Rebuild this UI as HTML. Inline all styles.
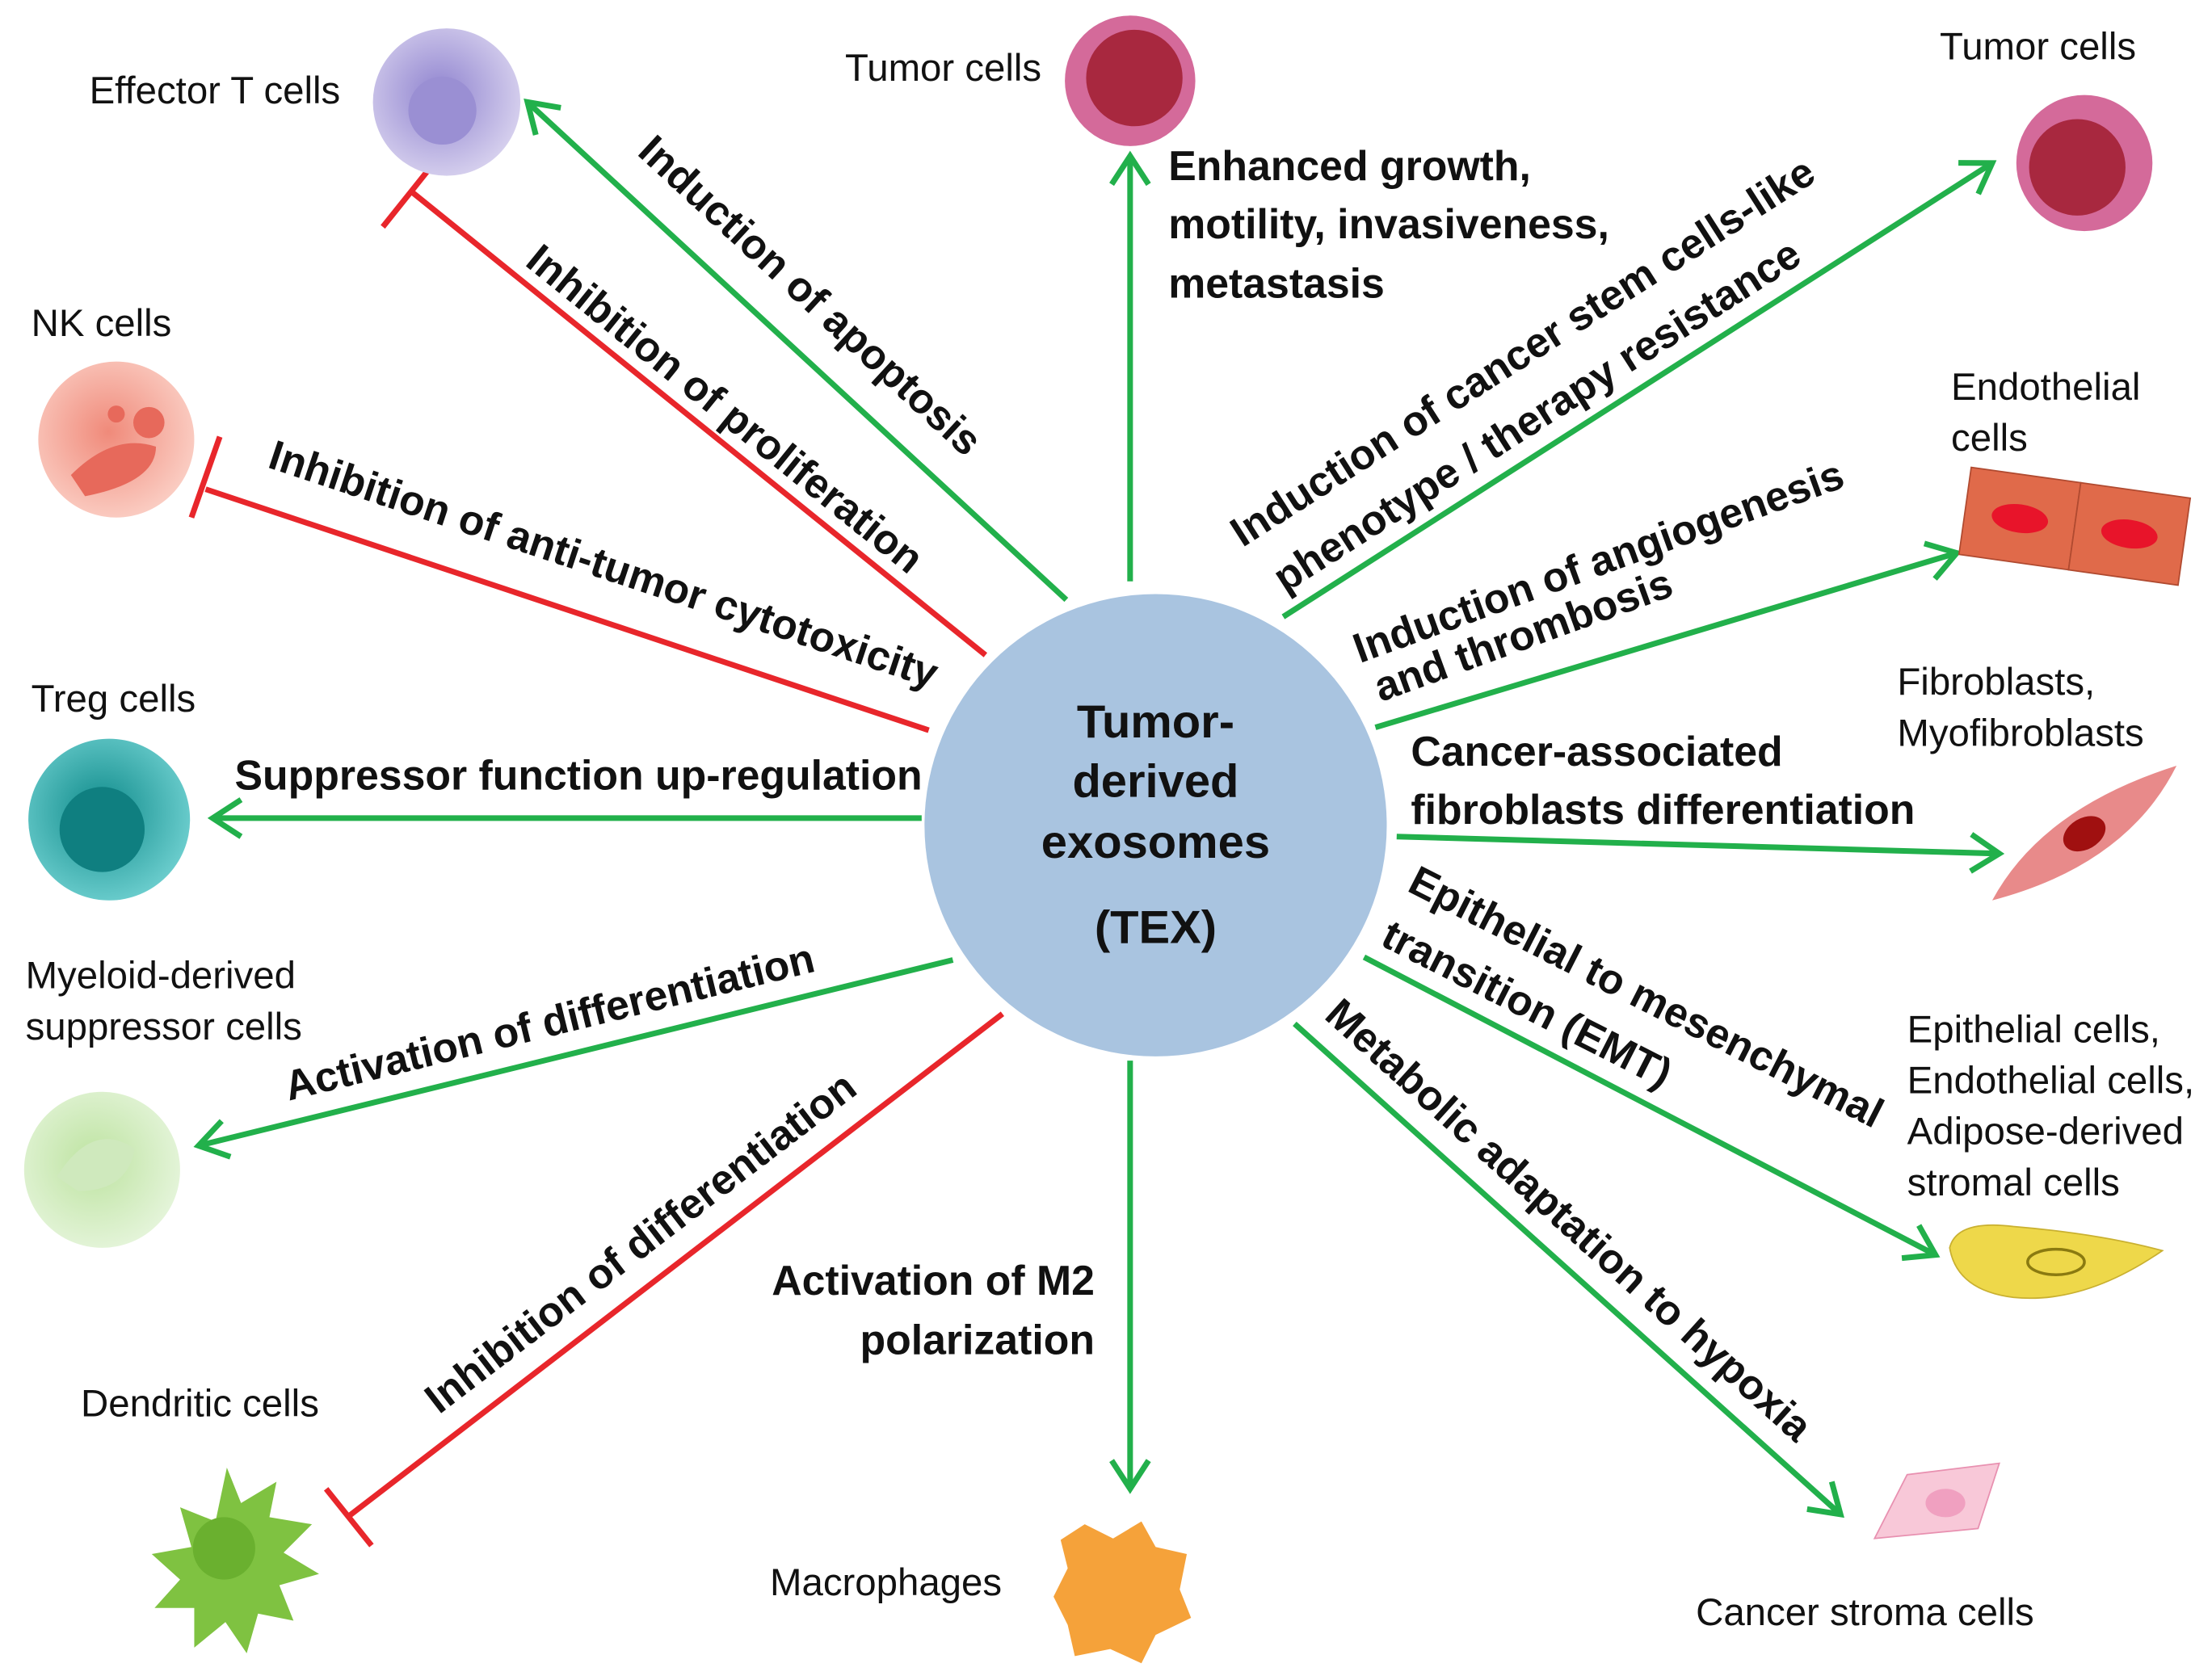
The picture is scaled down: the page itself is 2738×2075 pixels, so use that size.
<!DOCTYPE html>
<html><head><meta charset="utf-8"><style>html,body{margin:0;padding:0;background:#fff}svg{display:block}</style></head>
<body>
<svg xmlns="http://www.w3.org/2000/svg" width="2738" height="2075" viewBox="0 0 1560 1182" preserveAspectRatio="none" font-family="Liberation Sans, sans-serif">
<defs>
<marker id="ag" markerWidth="40" markerHeight="40" refX="0" refY="0" orient="auto" markerUnits="userSpaceOnUse" style="overflow:visible">
<path d="M-20,-13 L0,0 L-20,13" fill="none" stroke="#22b04b" stroke-width="4"/>
</marker>
<radialGradient id="gp" cx="45%" cy="45%" r="60%"><stop offset="0" stop-color="#8f83cf"/><stop offset="1" stop-color="#d9d3ef"/></radialGradient>
<radialGradient id="gt" cx="45%" cy="45%" r="60%"><stop offset="0" stop-color="#0e8a8a"/><stop offset="1" stop-color="#6fd0d0"/></radialGradient>
<radialGradient id="gn" cx="45%" cy="45%" r="60%"><stop offset="0" stop-color="#f08a7a"/><stop offset="1" stop-color="#fbd0c6"/></radialGradient>
<radialGradient id="gm" cx="45%" cy="45%" r="60%"><stop offset="0" stop-color="#bde3a0"/><stop offset="1" stop-color="#e6f5dc"/></radialGradient>
</defs>
<g stroke-width="4" fill="none">
<g stroke="#22b04b">
<line x1="752" y1="423" x2="372" y2="72" marker-end="url(#ag)"/>
<line x1="650" y1="577" x2="150" y2="577" marker-end="url(#ag)"/>
<line x1="672" y1="677" x2="140" y2="808" marker-end="url(#ag)"/>
<line x1="797" y1="748" x2="797" y2="1050" marker-end="url(#ag)"/>
<line x1="797" y1="410" x2="797" y2="110" marker-end="url(#ag)"/>
<line x1="905" y1="435" x2="1405" y2="115" marker-end="url(#ag)"/>
<line x1="970" y1="513" x2="1380" y2="390" marker-end="url(#ag)"/>
<line x1="985" y1="590" x2="1410" y2="602" marker-end="url(#ag)"/>
<line x1="962" y1="675" x2="1365" y2="885" marker-end="url(#ag)"/>
<line x1="913" y1="722" x2="1298" y2="1068" marker-end="url(#ag)"/>
</g>
<g stroke="#e8262b">
<line x1="695" y1="462" x2="290" y2="135"/><line x1="270" y1="160" x2="310" y2="110"/>
<line x1="655" y1="515" x2="145" y2="345"/><line x1="135" y1="365" x2="155" y2="308"/>
<line x1="707" y1="715" x2="245" y2="1070"/><line x1="230" y1="1050" x2="262" y2="1090"/>
</g>
</g>
<circle cx="815" cy="582" r="163" fill="#a9c4e0"/>
<g font-weight="bold" font-size="33" text-anchor="middle" fill="#111">
<text x="815" y="520">Tumor-</text><text x="815" y="562">derived</text><text x="815" y="605">exosomes</text><text x="815" y="665">(TEX)</text>
</g>
<!-- cells -->
<circle cx="315" cy="72" r="52" fill="url(#gp)"/><circle cx="312" cy="78" r="24" fill="#9a8fd3"/>
<circle cx="797" cy="57" r="46" fill="#d46a9a"/><circle cx="800" cy="55" r="34" fill="#a8283f"/>
<circle cx="1470" cy="115" r="48" fill="#d46a9a"/><circle cx="1465" cy="118" r="34" fill="#a8283f"/>
<circle cx="82" cy="310" r="55" fill="url(#gn)"/><path d="M50,335 q30,-30 60,-20 q0,25 -50,35z" fill="#e7695b"/><circle cx="105" cy="298" r="11" fill="#e7695b"/><circle cx="82" cy="292" r="6" fill="#e7695b"/>
<circle cx="77" cy="578" r="57" fill="url(#gt)"/><circle cx="72" cy="585" r="30" fill="#0f7f80"/>
<circle cx="72" cy="825" r="55" fill="url(#gm)"/><path d="M40,830 q25,-40 55,-20 q-5,30 -40,30z" fill="#cfe9bd"/>
<path d="M160,1035 l10,25 l25,-15 l-5,25 l30,5 l-20,20 l25,15 l-28,8 l10,25 l-25,-5 l-8,28 l-15,-22 l-22,18 l0,-28 l-28,0 l18,-20 l-20,-18 l28,-5 l-8,-28 l25,10z" fill="#7fc241"/><circle cx="158" cy="1092" r="22" fill="#6ab02f"/>
<path d="M765,1075 l20,10 l20,-12 l10,18 l22,5 l-5,25 l8,20 l-25,12 l-10,20 l-22,-10 l-25,5 l-5,-22 l-10,-20 l10,-20 l-5,-20z" fill="#f5a23a"/>
<g transform="rotate(8 1462 372)"><rect x="1385" y="340" width="78" height="62" fill="#e06a4a" stroke="#b04a30"/><rect x="1463" y="340" width="78" height="62" fill="#e06a4a" stroke="#b04a30"/><ellipse cx="1424" cy="371" rx="20" ry="10" fill="#e8142a"/><ellipse cx="1502" cy="371" rx="20" ry="10" fill="#e8142a"/></g>
<path d="M1405,635 Q1440,570 1535,540 Q1500,610 1405,635z" fill="#e88a8a"/><ellipse cx="1470" cy="588" rx="16" ry="11" fill="#a01010" transform="rotate(-30 1470 588)"/>
<path d="M1375,880 Q1380,860 1420,865 Q1480,870 1525,882 Q1470,920 1420,915 Q1380,910 1375,880z" fill="#eed84a" stroke="#c9b030"/><ellipse cx="1450" cy="890" rx="20" ry="9" fill="none" stroke="#8a7a10" stroke-width="2"/>
<path d="M1322,1085 L1345,1040 L1410,1032 L1395,1078 z" fill="#f8c8d8" stroke="#e890b0"/><ellipse cx="1372" cy="1060" rx="14" ry="10" fill="#f0a0c0"/>
<!-- labels -->
<g font-size="27" fill="#111">
<text x="63" y="73">Effector T cells</text>
<text x="596" y="57">Tumor cells</text>
<text x="1368" y="42">Tumor cells</text>
<text x="22" y="237">NK cells</text>
<text x="22" y="502">Treg cells</text>
<text x="18" y="697">Myeloid-derived</text><text x="18" y="733">suppressor cells</text>
<text x="57" y="999">Dendritic cells</text>
<text x="543" y="1125">Macrophages</text>
<text x="1376" y="282">Endothelial</text><text x="1376" y="318">cells</text>
<text x="1338" y="490">Fibroblasts,</text><text x="1338" y="526">Myofibroblasts</text>
<text x="1345" y="735">Epithelial cells,</text><text x="1345" y="771">Endothelial cells,</text><text x="1345" y="807">Adipose-derived</text><text x="1345" y="843">stromal cells</text>
<text x="1196" y="1146">Cancer stroma cells</text>
</g>
<g font-size="29.5" font-weight="bold" fill="#111" text-anchor="middle" dominant-baseline="middle">
<text transform="rotate(42.7 570 210)" x="570" y="210">Induction of apoptosis</text>
<text transform="rotate(38.9 510 290)" x="510" y="290">Inhibition of proliferation</text>
<text transform="rotate(18.4 425 400)" x="425" y="400">Inhibition of anti-tumor cytotoxicity</text>
<text x="408" y="549">Suppressor function up-regulation</text>
<text transform="rotate(-13.8 388 723)" x="388" y="723">Activation of differentiation</text>
<text transform="rotate(-37.5 453 878)" x="453" y="878">Inhibition of differentiation</text>
<text transform="rotate(-32.6 1075 250)" x="1075" y="250">Induction of cancer stem cells-like</text>
<text transform="rotate(-32.6 1085 295)" x="1085" y="295">phenotype / therapy resistance</text>
<text transform="rotate(-20 1128 398)" x="1128" y="398">Induction of angiogenesis</text>
<text transform="rotate(-20 1075 450)" x="1075" y="450">and thrombosis</text>
<text transform="rotate(27 1160 705)" x="1160" y="705">Epithelial to mesenchymal</text>
<text transform="rotate(27 1076 710)" x="1076" y="710">transition (EMT)</text>
<text transform="rotate(42 1105 862)" x="1105" y="862">Metabolic adaptation to hypoxia</text>
</g>
<g font-size="29.5" font-weight="bold" fill="#111">
<text x="772" y="913" text-anchor="end">Activation of M2</text><text x="772" y="955" text-anchor="end">polarization</text>
<text x="824" y="127">Enhanced growth,</text><text x="824" y="168">motility, invasiveness,</text><text x="824" y="210">metastasis</text>
<text x="995" y="540">Cancer-associated</text><text x="995" y="581">fibroblasts differentiation</text>
</g>
</svg>
</body></html>
